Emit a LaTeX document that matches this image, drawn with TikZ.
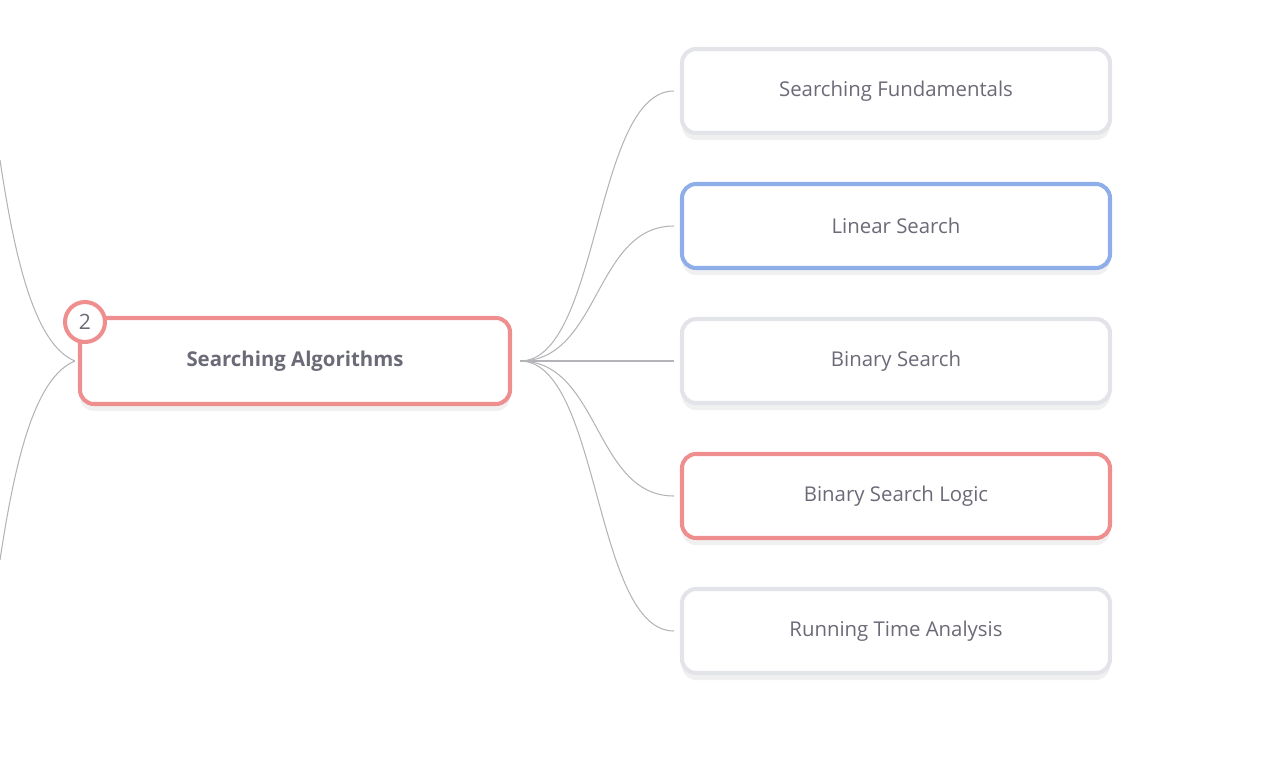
\documentclass[tikz,border=0pt]{standalone}
\usepackage{fontspec}
\setmainfont{Open Sans}
\usetikzlibrary{positioning, shadows}
\definecolor{linkgray}{HTML}{B4B4B8}
\definecolor{textgray}{HTML}{6B6B78}
\definecolor{boxgray}{HTML}{E3E4E9}
\definecolor{boxblue}{HTML}{8EAEEA}
\definecolor{boxred}{HTML}{EF8E8E}
\tikzset{
topic/.style={draw=boxgray, line width=2.3pt, rounded corners=8pt, fill=white, minimum width=428*0.02cm, minimum height=84*0.02cm, text=textgray, font=\fontsize{11.6}{13}\selectfont, drop shadow={shadow xshift=0pt, shadow yshift=-4pt, opacity=0.06, fill=black}},
bluetopic/.style={topic, draw=boxblue},
redtopic/.style={topic, draw=boxred},
root/.style={topic, draw=boxred, minimum width=430*0.02cm, minimum height=86*0.02cm, font=\fontsize{11.6}{13}\selectfont\bfseries},
badge/.style={circle, draw=boxred, line width=2.3pt, fill=white, minimum size=40*0.02cm, inner sep=0, text=textgray, font=\fontsize{12}{13}\selectfont},
link/.style={draw=linkgray, line width=0.6pt}}
\begin{document}
\begin{tikzpicture}[x=0.02cm, y=-0.02cm]
\useasboundingbox (0,0) rectangle (1285,768);
\node [root] at (295,361) (algo) {Searching Algorithms};
\node [badge] at (85,322) (num) {2};
\foreach \tlabel/\tstyle [count=\j, evaluate={\yy=91+135*(\j-1);}] in {Searching Fundamentals/topic, Linear Search/bluetopic, Binary Search/topic, Binary Search Logic/redtopic, Running Time Analysis/topic}{
  \node [\tstyle] at (896,\yy) (t-\j) {\tlabel};
  \coordinate (in-\j) at ([xshift=-6*0.02cm]t-\j.west);
  \draw [link] ([xshift=8*0.02cm]algo.east) .. controls ++(80,0) and ([xshift=-80*0.02cm]in-\j) .. (in-\j);
}
% links coming from the left
\coordinate (up) at (0,160);
\coordinate (down) at (0,560);
\coordinate (lin) at (75,361);
\draw [link] (lin) .. controls (35,345) and (15,260) .. (up);
\draw [link] (lin) .. controls (35,377) and (15,460) .. (down);
\end{tikzpicture}
\end{document}
